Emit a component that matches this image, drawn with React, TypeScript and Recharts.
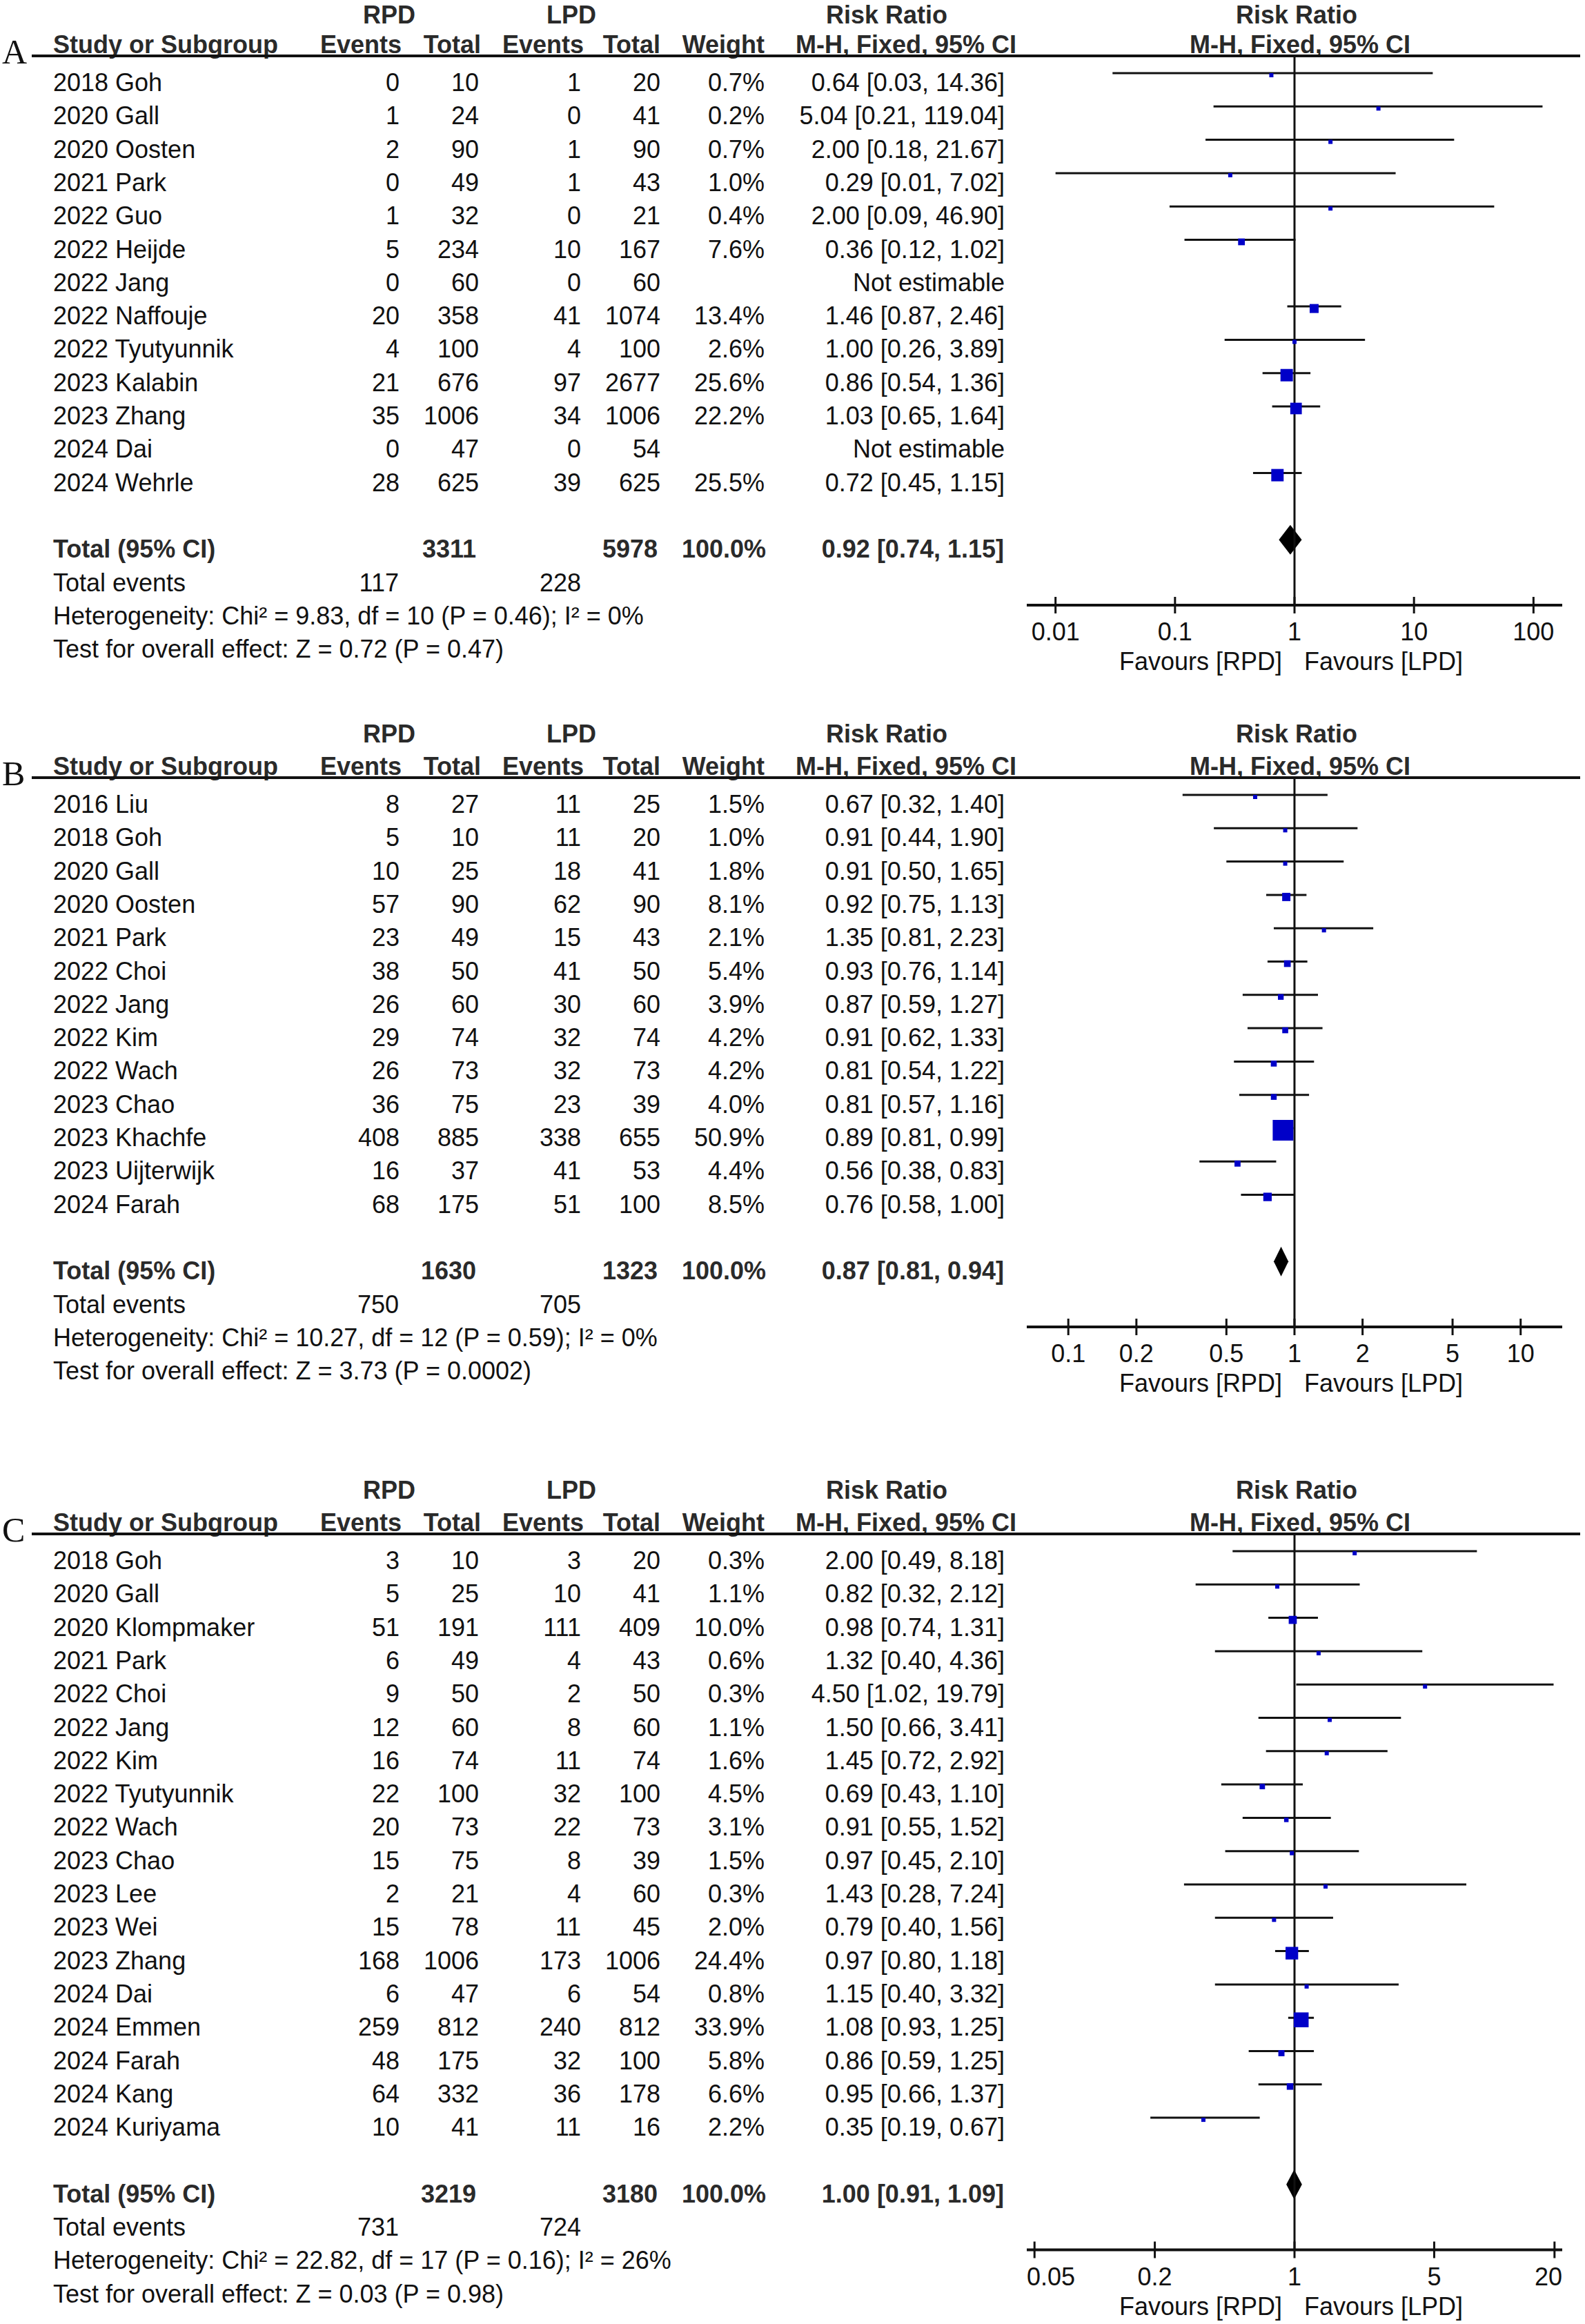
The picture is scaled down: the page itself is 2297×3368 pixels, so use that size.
import React from 'react'
import { ScatterChart, Scatter, XAxis, YAxis, ErrorBar, ReferenceLine, ReferenceArea } from 'recharts'

const FONT = '"Liberation Sans", Arial, sans-serif'
const INK = '#111'
const HEAD = '#2a2a2a'
const BOX = '#0000c8'
const ROW = 48.3
const FS = 36
const PLOT_LEFT = 1488
const PLOT_RIGHT = 2264

// ---- A ----
const aStudies = ['2018 Goh', '2020 Gall', '2020 Oosten', '2021 Park', '2022 Guo', '2022 Heijde', '2022 Jang', '2022 Naffouje', '2022 Tyutyunnik', '2023 Kalabin', '2023 Zhang', '2024 Dai', '2024 Wehrle']
const aRpdEvents = [0, 1, 2, 0, 1, 5, 0, 20, 4, 21, 35, 0, 28]
const aRpdTotal = [10, 24, 90, 49, 32, 234, 60, 358, 100, 676, 1006, 47, 625]
const aLpdEvents = [1, 0, 1, 1, 0, 10, 0, 41, 4, 97, 34, 0, 39]
const aLpdTotal = [20, 41, 90, 43, 21, 167, 60, 1074, 100, 2677, 1006, 54, 625]
const aWeight = [0.7, 0.2, 0.7, 1.0, 0.4, 7.6, null, 13.4, 2.6, 25.6, 22.2, null, 25.5]
const aRR = [0.64, 5.04, 2.0, 0.29, 2.0, 0.36, null, 1.46, 1.0, 0.86, 1.03, null, 0.72]
const aLow = [0.03, 0.21, 0.18, 0.01, 0.09, 0.12, null, 0.87, 0.26, 0.54, 0.65, null, 0.45]
const aHigh = [14.36, 119.04, 21.67, 7.02, 46.9, 1.02, null, 2.46, 3.89, 1.36, 1.64, null, 1.15]
const aTotals = [3311, 5978]
const aPooled = [0.92, 0.74, 1.15]
const aEvents = [117, 228]
const aHetero = 'Heterogeneity: Chi² = 9.83, df = 10 (P = 0.46); I² = 0%'
const aEffect = 'Test for overall effect: Z = 0.72 (P = 0.47)'
const aTicks = [0.01, 0.1, 1, 10, 100]

// ---- B ----
const bStudies = ['2016 Liu', '2018 Goh', '2020 Gall', '2020 Oosten', '2021 Park', '2022 Choi', '2022 Jang', '2022 Kim', '2022 Wach', '2023 Chao', '2023 Khachfe', '2023 Uijterwijk', '2024 Farah']
const bRpdEvents = [8, 5, 10, 57, 23, 38, 26, 29, 26, 36, 408, 16, 68]
const bRpdTotal = [27, 10, 25, 90, 49, 50, 60, 74, 73, 75, 885, 37, 175]
const bLpdEvents = [11, 11, 18, 62, 15, 41, 30, 32, 32, 23, 338, 41, 51]
const bLpdTotal = [25, 20, 41, 90, 43, 50, 60, 74, 73, 39, 655, 53, 100]
const bWeight = [1.5, 1.0, 1.8, 8.1, 2.1, 5.4, 3.9, 4.2, 4.2, 4.0, 50.9, 4.4, 8.5]
const bRR = [0.67, 0.91, 0.91, 0.92, 1.35, 0.93, 0.87, 0.91, 0.81, 0.81, 0.89, 0.56, 0.76]
const bLow = [0.32, 0.44, 0.5, 0.75, 0.81, 0.76, 0.59, 0.62, 0.54, 0.57, 0.81, 0.38, 0.58]
const bHigh = [1.4, 1.9, 1.65, 1.13, 2.23, 1.14, 1.27, 1.33, 1.22, 1.16, 0.99, 0.83, 1.0]
const bTotals = [1630, 1323]
const bPooled = [0.87, 0.81, 0.94]
const bEvents = [750, 705]
const bHetero = 'Heterogeneity: Chi² = 10.27, df = 12 (P = 0.59); I² = 0%'
const bEffect = 'Test for overall effect: Z = 3.73 (P = 0.0002)'
const bTicks = [0.1, 0.2, 0.5, 1, 2, 5, 10]

// ---- C ----
const cStudies = ['2018 Goh', '2020 Gall', '2020 Klompmaker', '2021 Park', '2022 Choi', '2022 Jang', '2022 Kim', '2022 Tyutyunnik', '2022 Wach', '2023 Chao', '2023 Lee', '2023 Wei', '2023 Zhang', '2024 Dai', '2024 Emmen', '2024 Farah', '2024 Kang', '2024 Kuriyama']
const cRpdEvents = [3, 5, 51, 6, 9, 12, 16, 22, 20, 15, 2, 15, 168, 6, 259, 48, 64, 10]
const cRpdTotal = [10, 25, 191, 49, 50, 60, 74, 100, 73, 75, 21, 78, 1006, 47, 812, 175, 332, 41]
const cLpdEvents = [3, 10, 111, 4, 2, 8, 11, 32, 22, 8, 4, 11, 173, 6, 240, 32, 36, 11]
const cLpdTotal = [20, 41, 409, 43, 50, 60, 74, 100, 73, 39, 60, 45, 1006, 54, 812, 100, 178, 16]
const cWeight = [0.3, 1.1, 10.0, 0.6, 0.3, 1.1, 1.6, 4.5, 3.1, 1.5, 0.3, 2.0, 24.4, 0.8, 33.9, 5.8, 6.6, 2.2]
const cRR = [2.0, 0.82, 0.98, 1.32, 4.5, 1.5, 1.45, 0.69, 0.91, 0.97, 1.43, 0.79, 0.97, 1.15, 1.08, 0.86, 0.95, 0.35]
const cLow = [0.49, 0.32, 0.74, 0.4, 1.02, 0.66, 0.72, 0.43, 0.55, 0.45, 0.28, 0.4, 0.8, 0.4, 0.93, 0.59, 0.66, 0.19]
const cHigh = [8.18, 2.12, 1.31, 4.36, 19.79, 3.41, 2.92, 1.1, 1.52, 2.1, 7.24, 1.56, 1.18, 3.32, 1.25, 1.25, 1.37, 0.67]
const cTotals = [3219, 3180]
const cPooled = [1.0, 0.91, 1.09]
const cEvents = [731, 724]
const cHetero = 'Heterogeneity: Chi² = 22.82, df = 17 (P = 0.16); I² = 26%'
const cEffect = 'Test for overall effect: Z = 0.03 (P = 0.98)'
const cTicks = [0.05, 0.2, 1, 5, 20]

const panels = [
  {
    letter: 'A', top: 0, pad: 81, height: 1036, domain: [0.005746, 174.0], boxK: 3.55,
    studies: aStudies, rpdE: aRpdEvents, rpdT: aRpdTotal, lpdE: aLpdEvents, lpdT: aLpdTotal,
    weight: aWeight, rr: aRR, low: aLow, high: aHigh, totals: aTotals, pooled: aPooled,
    events: aEvents, hetero: aHetero, effect: aEffect, ticks: aTicks,
  },
  {
    letter: 'B', top: 1036, pad: 91, height: 1096, domain: [0.06551, 15.27], boxK: 4.2,
    studies: bStudies, rpdE: bRpdEvents, rpdT: bRpdTotal, lpdE: bLpdEvents, lpdT: bLpdTotal,
    weight: bWeight, rr: bRR, low: bLow, high: bHigh, totals: bTotals, pooled: bPooled,
    events: bEvents, hetero: bHetero, effect: bEffect, ticks: bTicks,
  },
  {
    letter: 'C', top: 2132, pad: 91, height: 1236, domain: [0.04574, 21.86], boxK: 3.7,
    studies: cStudies, rpdE: cRpdEvents, rpdT: cRpdTotal, lpdE: cLpdEvents, lpdT: cLpdTotal,
    weight: cWeight, rr: cRR, low: cLow, high: cHigh, totals: cTotals, pooled: cPooled,
    events: cEvents, hetero: cHetero, effect: cEffect, ticks: cTicks,
  },
]

const ci = (r: number, l: number, h: number) => `${r.toFixed(2)} [${l.toFixed(2)}, ${h.toFixed(2)}]`

function T({ x, y, anchor = 'start', bold = false, children }: any) {
  return (
    <text x={x} y={y} textAnchor={anchor} fontFamily={FONT} fontSize={FS} fontWeight={bold ? 700 : 400} fill={bold ? HEAD : INK}>
      {children}
    </text>
  )
}

function Header({ y, letter }: { y: number; letter: string }) {
  // y is the header rule; keep the top line inside the svg
  const top = Math.max(y - 51, 34)
  const sub = y - 4
  return (
    <g>
      <text x={3} y={y + 11} fontFamily='"Liberation Serif", "Times New Roman", serif' fontSize={50} fill={INK}>{letter}</text>
      <T x={526} y={top} bold>RPD</T>
      <T x={792} y={top} bold>LPD</T>
      <T x={1197} y={top} bold>Risk Ratio</T>
      <T x={1791} y={top} bold>Risk Ratio</T>
      <T x={77} y={sub} bold>Study or Subgroup</T>
      <T x={582} y={sub} anchor="end" bold>Events</T>
      <T x={697} y={sub} anchor="end" bold>Total</T>
      <T x={846} y={sub} anchor="end" bold>Events</T>
      <T x={957} y={sub} anchor="end" bold>Total</T>
      <T x={1108} y={sub} anchor="end" bold>Weight</T>
      <T x={1153} y={sub} bold>M-H, Fixed, 95% CI</T>
      <T x={1724} y={sub} bold>M-H, Fixed, 95% CI</T>
      <line x1={46} x2={2290} y1={y} y2={y} stroke={INK} strokeWidth={4} />
    </g>
  )
}

function RowTick(props: any) {
  const { y, payload, panel } = props
  const v = payload.value
  const n = panel.studies.length
  const base = y + 26
  if (v < n) {
    const w = panel.weight[v]
    const r = panel.rr[v]
    return (
      <g>
        {v === 0 && <Header y={y - 25} letter={panel.letter} />}
        <T x={77} y={base}>{panel.studies[v]}</T>
        <T x={579} y={base} anchor="end">{panel.rpdE[v]}</T>
        <T x={694} y={base} anchor="end">{panel.rpdT[v]}</T>
        <T x={842} y={base} anchor="end">{panel.lpdE[v]}</T>
        <T x={957} y={base} anchor="end">{panel.lpdT[v]}</T>
        <T x={1108} y={base} anchor="end">{w == null ? '' : `${w.toFixed(1)}%`}</T>
        <T x={1456} y={base} anchor="end">{r == null ? 'Not estimable' : ci(r, panel.low[v], panel.high[v])}</T>
      </g>
    )
  }
  if (v === n + 1) {
    const [r, l, h] = panel.pooled
    return (
      <g>
        <T x={77} y={base} bold>Total (95% CI)</T>
        <T x={690} y={base} anchor="end" bold>{panel.totals[0]}</T>
        <T x={953} y={base} anchor="end" bold>{panel.totals[1]}</T>
        <T x={1110} y={base} anchor="end" bold>100.0%</T>
        <T x={1455} y={base} anchor="end" bold>{ci(r, l, h)}</T>
      </g>
    )
  }
  return (
    <g>
      <T x={77} y={base}>Total events</T>
      <T x={578} y={base} anchor="end">{panel.events[0]}</T>
      <T x={842} y={base} anchor="end">{panel.events[1]}</T>
      <T x={77} y={base + ROW}>{panel.hetero}</T>
      <T x={77} y={base + ROW * 2}>{panel.effect}</T>
    </g>
  )
}

function AxisTick(props: any) {
  const { x, y, payload } = props
  const v = payload.value
  const label = String(v)
  // keep end labels inside the axis line, like RevMan does
  const w = [...label].reduce((s, ch) => s + (ch === '.' ? 10 : 20), 0)
  let lx = x
  let anchor = 'middle'
  if (x - w / 2 < PLOT_LEFT) { lx = PLOT_LEFT; anchor = 'start' }
  else if (x + w / 2 > PLOT_RIGHT) { lx = PLOT_RIGHT; anchor = 'end' }
  return (
    <g>
      <line x1={x} x2={x} y1={y - 12} y2={y + 12} stroke={INK} strokeWidth={3} />
      <T x={lx} y={y + 51} anchor={anchor}>{label}</T>
      {v === 1 && (
        <g>
          <T x={x - 18} y={y + 94} anchor="end">Favours [RPD]</T>
          <T x={x + 14} y={y + 94}>Favours [LPD]</T>
        </g>
      )}
    </g>
  )
}

function Box(props: any) {
  const { cx, cy, payload } = props
  const s = payload.size
  return <rect x={cx - s / 2} y={cy + 3 - s / 2} width={s} height={s} fill={BOX} />
}

function Diamond(props: any) {
  const { x, y, width, height } = props
  const pts = `${x},${y + height / 2} ${x + width / 2},${y} ${x + width},${y + height / 2} ${x + width / 2},${y + height}`
  return <polygon points={pts} fill="#000" />
}

function ForestPanel({ panel }: { panel: any }) {
  const n = panel.studies.length
  const axisRow = n + 2.963
  const plotH = (axisRow + 25 / ROW) * ROW
  const points = panel.studies
    .map((_: string, i: number) => i)
    .filter((i: number) => panel.rr[i] != null)
    .map((i: number) => ({
      x: panel.rr[i],
      y: i,
      err: [panel.rr[i] - panel.low[i], panel.high[i] - panel.rr[i]],
      size: Math.max(6, panel.boxK * Math.sqrt(panel.weight[i])),
    }))
  const rowTicks = [...panel.studies.map((_: string, i: number) => i), n + 1, n + 2]
  const [, pl, ph] = panel.pooled
  return (
    <ScatterChart width={2297} height={panel.height} margin={{ top: panel.pad, right: 2297 - PLOT_RIGHT, bottom: 0, left: 0 }}>
      <XAxis
        dataKey="x"
        type="number"
        scale="log"
        domain={panel.domain}
        ticks={panel.ticks}
        interval={0}
        height={panel.height - panel.pad - plotH}
        axisLine={{ stroke: INK, strokeWidth: 4 }}
        tickLine={false}
        tickSize={0}
        tickMargin={0}
        tick={(p: any) => <AxisTick {...p} />}
      />
      <YAxis
        dataKey="y"
        type="number"
        reversed
        domain={[-25 / ROW, axisRow]}
        ticks={rowTicks}
        interval={0}
        width={PLOT_LEFT}
        axisLine={false}
        tickLine={false}
        tick={(p: any) => <RowTick {...p} panel={panel} />}
      />
      <ReferenceLine x={1} stroke={INK} strokeWidth={3} />
      <ReferenceArea
        x1={pl}
        x2={ph}
        y1={n + 1 - 0.445}
        y2={n + 1 + 0.445}
        ifOverflow="visible"
        shape={(p: any) => <Diamond {...p} />}
      />
      <Scatter data={points} shape={(p: any) => <Box {...p} />} isAnimationActive={false}>
        <ErrorBar dataKey="err" direction="x" width={0} stroke={INK} strokeWidth={3} isAnimationActive={false} />
      </Scatter>
    </ScatterChart>
  )
}

export default function App() {
  return (
    <div style={{ position: 'absolute', left: 0, top: 0, width: 2297, height: 3368, background: '#fff' }}>
      {panels.map((p) => (
        <div key={p.letter} style={{ position: 'absolute', left: 0, top: p.top }}>
          <ForestPanel panel={p} />
        </div>
      ))}
    </div>
  )
}
